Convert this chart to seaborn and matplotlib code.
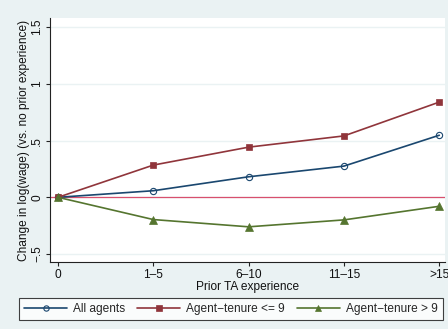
import matplotlib
matplotlib.use("Agg")
import matplotlib.pyplot as plt
import seaborn as sns
import pandas as pd

categories = ["0", "1\u20135", "6\u201310", "11\u201315", ">15"]
all_agents = [0.0, 0.058, 0.181, 0.275, 0.547]
tenure_le9 = [0.0, 0.284, 0.442, 0.541, 0.839]
tenure_gt9 = [0.0, -0.196, -0.260, -0.199, -0.079]
series_names = ["All agents", "Agent\u2212tenure <= 9", "Agent\u2212tenure > 9"]
y_ticks = [-0.5, 0, 0.5, 1, 1.5]
y_tick_labels = ["\u2212.5", "0", ".5", "1", "1.5"]

sns.set_theme(style="white")
plt.rcParams["font.family"] = ["Liberation Sans", "DejaVu Sans"]

FS = 8.6
bg = "#EAF2F3"
fig = plt.figure(figsize=(4.48, 3.29), dpi=100, facecolor=bg)
ax = fig.add_axes([50 / 448, 1 - 262 / 329, 395 / 448, 244 / 329])
ax.set_facecolor("white")

rows = []
for name, vals in zip(series_names, [all_agents, tenure_le9, tenure_gt9]):
    for i, (c, v) in enumerate(zip(categories, vals)):
        rows.append({"series": name, "pos": i, "cat": c, "value": v})
df = pd.DataFrame(rows)

styles = {
    series_names[0]: dict(color="#1A476F", marker="o", markersize=4.5,
                          markerfacecolor="none", markeredgewidth=0.8),
    series_names[1]: dict(color="#90353B", marker="s", markersize=5),
    series_names[2]: dict(color="#55752F", marker="^", markersize=5.5),
}

# reference line at zero
ax.axhline(0, color="#D8506E", lw=0.9, zorder=1)

for name in series_names:
    sub = df[df["series"] == name]
    st = styles[name]
    sns.lineplot(data=sub, x="pos", y="value", ax=ax, label=name,
                 color=st["color"], marker=st["marker"],
                 markersize=st["markersize"],
                 markerfacecolor=st.get("markerfacecolor", st["color"]),
                 markeredgecolor=st["color"],
                 markeredgewidth=st.get("markeredgewidth", 0.5),
                 lw=1.2, zorder=3)

ax.set_xlim(-0.084, 4.06)
ax.set_ylim(-0.57, 1.58)
ax.set_xticks(range(len(categories)))
ax.set_xticklabels(categories, fontsize=FS)
ax.set_yticks(y_ticks)
ax.set_yticklabels(y_tick_labels, fontsize=FS, rotation=90, va="center")
ax.grid(axis="y", color=bg, lw=1.0)
ax.grid(axis="x", visible=False)
ax.set_axisbelow(True)

for side in ["top", "right"]:
    ax.spines[side].set_visible(False)
for side in ["left", "bottom"]:
    ax.spines[side].set_color("#222222")
    ax.spines[side].set_linewidth(0.8)
ax.tick_params(axis="both", which="major", direction="out", length=3,
               width=0.8, color="#222222", pad=2, labelcolor="#111111")
ax.tick_params(axis="both", bottom=True, left=True)

ax.set_xlabel("Prior TA experience", fontsize=FS, labelpad=0, color="#111111")
ax.set_ylabel("Change in log(wage) (vs. no prior experience)", fontsize=FS,
              labelpad=1, color="#111111")

handles, labels = ax.get_legend_handles_labels()
ax.get_legend().remove()
leg = fig.legend(handles, labels, loc="center", bbox_to_anchor=(231 / 448, 1 - 309 / 329),
                 ncol=3, frameon=True, fancybox=False, fontsize=FS,
                 handlelength=3.6, columnspacing=1.0, handletextpad=0.5,
                 borderpad=0.4, numpoints=1, borderaxespad=0, markerscale=0.85)
leg.get_frame().set_edgecolor("#111111")
leg.get_frame().set_linewidth(0.8)
leg.get_frame().set_facecolor("white")

fig.savefig("out.png", dpi=100, facecolor=bg)
